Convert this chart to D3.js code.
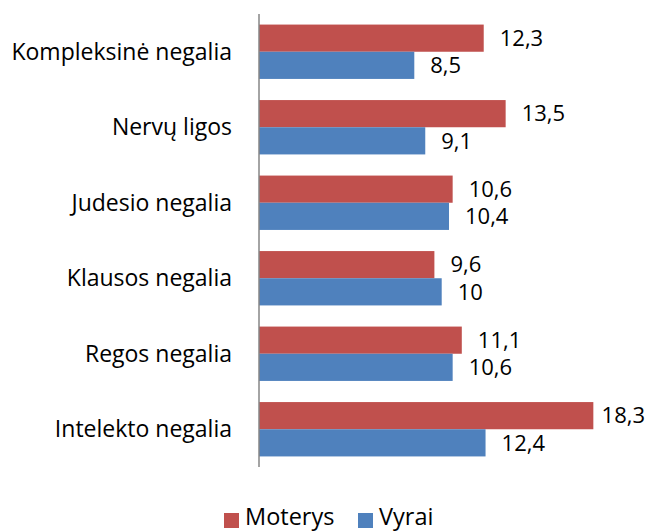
<!DOCTYPE html>
<html><head><meta charset="utf-8">
<script src="https://cdn.jsdelivr.net/npm/d3@7"></script>
<style>body{margin:0;background:#fff}svg{display:block}text{font-family:"Open Sans",sans-serif;fill:#000}</style>
</head><body><svg id="c" width="648" height="532"></svg>
<script>
const categories = ["Kompleksinė negalia","Nervų ligos","Judesio negalia","Klausos negalia","Regos negalia","Intelekto negalia"];
const seriesNames = ["Moterys","Vyrai"];
const moterys = [12.3,13.5,10.6,9.6,11.1,18.3];
const vyrai = [8.5,9.1,10.4,10,10.6,12.4];
const colors = ["#C0504D","#4F81BD"];
const fmt = v => String(v).replace(".", ",");

const svg = d3.select("#c");
const x0 = 259, plotTop = 14, plotBottom = 467;
const x = d3.scaleLinear().domain([0,20]).range([x0, x0 + 20*18.27]);
const y = d3.scaleBand().domain(categories).range([plotTop,plotBottom]).paddingInner(0.28).paddingOuter(0.14);
const ys = d3.scaleBand().domain(seriesNames).range([0,y.bandwidth()]);
const data = [moterys, vyrai];
const fsVal = 22, fsCat = 23;

categories.forEach((c,i)=>{
  data.forEach((arr,s)=>{
    const v = arr[i];
    const yy = y(c)+ys(seriesNames[s]);
    svg.append("rect").attr("x",x(0)).attr("y",yy).attr("width",x(v)-x(0)).attr("height",ys.bandwidth()).attr("fill",colors[s]);
    const t = svg.append("text").attr("x",x(v)+16).attr("y",yy+ys.bandwidth()/2).attr("dy","0.35em").attr("font-size",fsVal).text(fmt(v));
    const w = t.node().getComputedTextLength();
    if (x(v)+16+w > 645) t.attr("x", 645 - w);
  });
});
svg.append("line").attr("x1",x0).attr("x2",x0).attr("y1",plotTop).attr("y2",plotBottom).attr("stroke","#868686").attr("stroke-width",1.5);
categories.forEach(c=>{
  svg.append("text").attr("x",232).attr("y",y(c)+y.bandwidth()/2).attr("dy","0.35em").attr("text-anchor","end").attr("font-size",fsCat).text(c);
});
// legend
const leg = [{n:"Moterys",x:224},{n:"Vyrai",x:358}];
leg.forEach((l,i)=>{
  svg.append("rect").attr("x",l.x).attr("y",513).attr("width",15).attr("height",15).attr("fill",colors[i]);
  svg.append("text").attr("x",l.x+21).attr("y",524.5).attr("font-size",23.5).text(l.n);
});
</script></body></html>
